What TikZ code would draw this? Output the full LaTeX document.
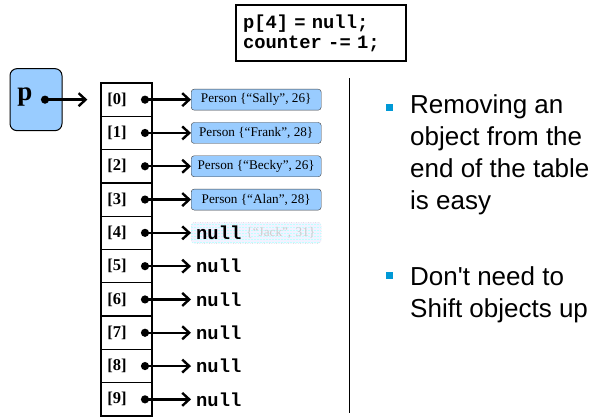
\documentclass[tikz,border=0pt]{standalone}
\usepackage{fontspec}
\setmainfont{Liberation Serif}
\setmonofont{Liberation Mono}
\newfontfamily\arialfont{Liberation Sans}
\usetikzlibrary{arrows.meta,positioning,patterns}
\definecolor{objblue}{RGB}{153,204,255}
\definecolor{bulletblue}{RGB}{0,153,214}

\begin{document}
\begin{tikzpicture}[x=1pt, y=-1pt,
    cellbox/.style={rectangle, draw=black, line width=1.3pt, minimum width=51pt, minimum height=33.3pt, inner sep=0pt},
    idx/.style={inner sep=0pt, font=\fontsize{16.5}{16.5}\selectfont\bfseries},
    obj/.style={rectangle, draw=black!75, rounded corners=3pt, fill=objblue, anchor=west,
    minimum width=130pt, minimum height=21pt, inner sep=0pt, font=\fontsize{13.2}{13.2}\selectfont},
    nullval/.style={inner sep=0pt, anchor=west, font=\fontsize{18.8}{18.8}\selectfont\ttfamily\bfseries},
    ptr/.style={line width=2.4pt, {Circle[length=8pt]}-{Straight Barb[length=7pt,width=13pt]}},
    pbox/.style={rectangle, draw=black, line width=1pt, rounded corners=7pt, fill=objblue, minimum width=52pt, minimum height=62pt},
    square/.style={rectangle, fill=bulletblue, minimum size=7pt, inner sep=0pt},
    point/.style={inner sep=0pt, anchor=north west, align=left, font=\arialfont\fontsize{26}{32}\selectfont}]
    \useasboundingbox (0,0) rectangle (593,416);

    % code that was run
    \node (code) [draw, line width=1.6pt, minimum width=170pt, minimum height=56pt, inner xsep=7pt, text width=156pt, align=left,
        font=\fontsize{18.8}{20}\selectfont\ttfamily\bfseries] at (321,33) {p[4] = null;\\counter -= 1;};

    % the table
    \foreach \i in {0,...,9}{
        \node (cell\i) [cellbox] at (126.5,{83+33.3*(\i+0.5)}) {};
        \node (idx\i) [idx] at ([xshift=-9.5pt]cell\i.center) {[\i]};
        \coordinate (dot\i) at ([xshift=14.5pt]cell\i.center);
    }

    % variable p
    \node (p) [pbox] at (36,99.65) {};
    \node (pname) [inner sep=0pt, font=\fontsize{27}{27}\selectfont\bfseries] at (25,97) {p};
    \coordinate (pdot) at (41,99.65);
    \draw [ptr] (pdot) -- ([xshift=-13pt]cell0.west);

    % objects
    \foreach \i/\who/\age in {0/Sally/26, 1/Frank/28, 2/Becky/26, 3/Alan/28}{
        \node (obj\i) [obj] at (191,{83+33.3*(\i+0.5)}) {Person \{``\who'', \age\}};
        \draw [ptr] (dot\i) -- (obj\i.west);
    }

    % removed object
    \node (ghost) [obj, fill=blue!5, draw=gray!50, dotted, text=gray!40, text width=118pt, align=right,
        postaction={pattern=grid, pattern color=cyan!25}] at (191,{83+33.3*4.5}) {\{``Jack'', 31\}};
    \node (null4) [nullval] at (196,{83+33.3*4.5}) {null};
    \draw [ptr] (dot4) -- (ghost.west);

    \foreach \i in {5,...,9}{
        \node (null\i) [nullval] at (196,{83+33.3*(\i+0.5)}) {null};
        \draw [ptr] (dot\i) -- ([xshift=-5pt]null\i.west);
    }

    % divider
    \draw [line width=1pt] (349,78) -- (349,413);

    % bullets
    \node (sq1) [square] at (389,107) {};
    \node (pt1) [point] at (410,94) {Removing an\\object from the\\end of the table\\is easy};
    \node (sq2) [square] at (389,275) {};
    \node (pt2) [point] at (410,266) {Don't need to\\Shift objects up};
\end{tikzpicture}
\end{document}
